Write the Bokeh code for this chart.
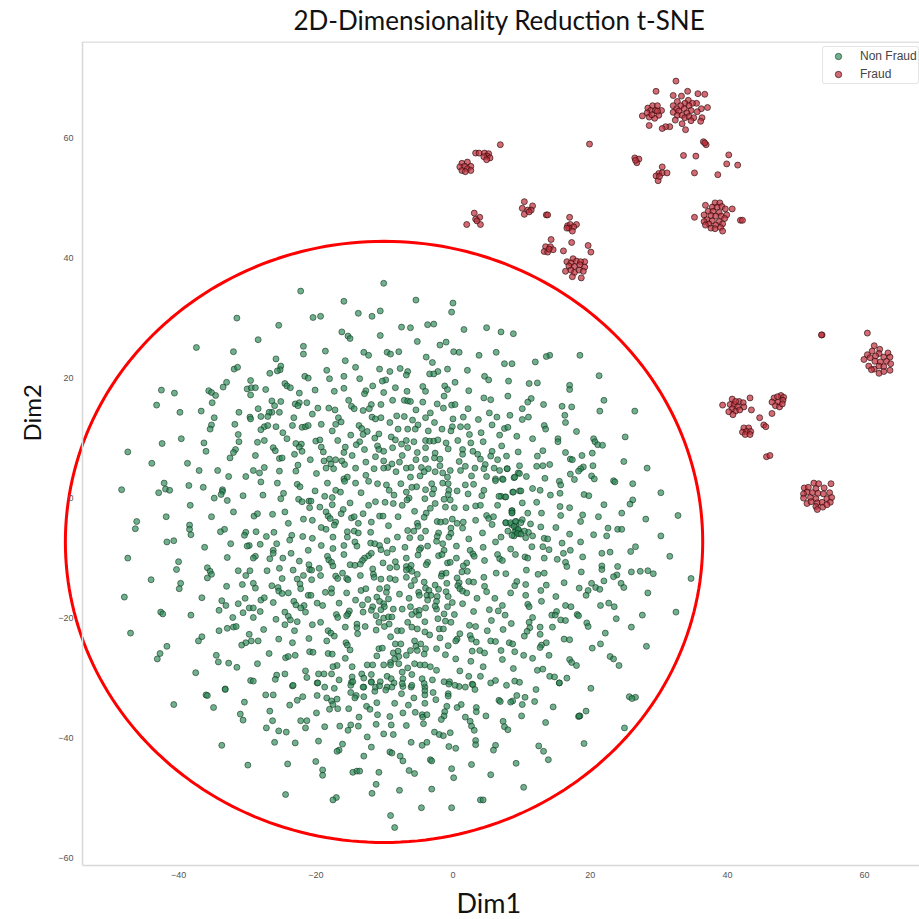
from bokeh.plotting import figure
from bokeh.models import FixedTicker, Range1d, Title
from bokeh.embed import file_html
from bokeh.resources import INLINE
import numpy as np

TITLE = "2D-Dimensionality Reduction t-SNE"
X_TICKS = [-40, -20, 0, 20, 40, 60]
Y_TICKS = [-60, -40, -20, 0, 20, 40, 60]
ELLIPSE_CENTER = (-10.05, -7.4)
ELLIPSE_SIZE = (92.9, 100.2)
X_AXIS_START = -54.0
X_END = 68.0
Y_START = -61.33
Y_END = 76.0

nonfraud_upper_left = [(-22.2,34.4),(-31.5,29.9),(-25.4,28.7),(-28.4,26.3),(-37.4,25.0),(-21.8,25.2),(-21.8,23.9),(-32.0,24.3),(-25.8,23.1),(-31.9,21.4),(-31.4,21.7),(-25.1,21.9),(-25.2,21.3),(-25.6,21.1),(-26.7,20.7),(-21.6,20.2),(-21.1,19.9),(-29.5,19.5),(-33.0,19.2),(-33.5,18.4),(-24.5,19.0),(-24.2,18.6),(-23.7,18.3),(-30.0,18.1),(-29.4,18.3),(-28.8,18.3),(-27.3,18.0),(-42.5,17.9),(-40.6,17.4),(-35.6,17.8),(-35.2,17.5),(-34.6,17.0),(-29.5,17.1),(-22.4,17.4),(-35.1,15.8),(-26.4,16.1),(-25.1,16.0),(-23.0,15.6),(-22.4,15.8),(-21.3,15.8),(-22.6,15.3),(-43.2,15.4),(-39.8,14.2),(-36.7,14.4),(-31.2,14.2),(-28.4,14.8),(-26.0,15.3),(-26.4,14.2),(-26.8,14.2),(-25.3,14.2),(-34.8,13.3),(-29.6,13.4),(-29.5,13.1),(-28.0,13.5),(-27.0,13.5),(-23.2,13.3),(-35.2,12.1),(-35.4,11.4),(-31.8,12.2),(-27.5,11.8),(-27.0,12.0),(-25.8,11.8),(-28.0,11.3),(-23.4,12.0),(-22.0,11.7),(-21.5,11.8),(-21.1,12.0),(-31.3,10.5),(-24.8,10.8),(-39.6,9.8),(-24.2,9.8),(-42.4,9.0),(-36.3,9.1),(-31.2,9.3),(-28.5,9.2),(-27.5,9.5),(-22.9,9.0),(-22.1,8.9),(-22.4,8.4),(-47.4,7.6),(-36.0,7.7),(-31.7,8.0),(-32.0,7.5),(-32.5,6.6),(-28.8,7.0),(-26.2,8.3),(-25.9,7.8),(-25.3,6.5),(-24.9,6.6),(-23.1,7.2),(-22.0,7.7),(-43.9,5.7),(-38.7,5.7),(-22.6,5.4),(-20.8,6.3),(-37.0,4.5),(-34.3,4.5),(-29.1,4.5),(-28.2,4.1),(-27.5,5.0),(-25.3,4.4),(-22.9,4.4),(-32.7,3.5),(-30.2,3.5)]

nonfraud_upper_middle = [(-10.1,35.7),(-15.9,32.7),(-5.4,32.9),(0.0,32.4),(-0.2,30.9),(-13.8,30.7),(-10.6,31.1),(-11.8,30.2),(-20.4,30.0),(-19.3,30.2),(-3.7,28.8),(-2.8,28.9),(-7.5,28.4),(-6.2,28.3),(1.6,28.0),(4.9,28.3),(7.0,27.6),(8.8,27.3),(-16.2,27.6),(-15.3,26.9),(-15.0,26.5),(-10.6,27.0),(-5.2,26.0),(-1.9,25.4),(-1.0,25.9),(-18.6,24.4),(-13.0,24.2),(-12.3,23.7),(-9.6,24.2),(-9.1,23.9),(-7.9,24.3),(0.1,24.3),(0.9,24.2),(3.8,23.7),(6.3,24.2),(-3.9,23.4),(-3.0,22.5),(-15.7,22.8),(7.5,22.3),(8.6,22.3),(-14.2,21.7),(-10.7,21.4),(-9.2,21.0),(-7.7,21.5),(-6.6,21.0),(-6.8,20.4),(-18.4,21.2),(-2.2,21.0),(-0.8,21.4),(-3.4,20.6),(-2.8,20.6),(2.1,21.2),(-18.0,19.8),(-15.9,20.2),(-13.6,19.8),(-9.8,19.6),(-10.3,19.4),(4.6,20.2),(5.2,19.6),(8.1,19.4),(0.3,19.2),(-11.7,18.6),(-8.4,18.3),(-4.4,18.5),(-1.2,18.6),(-0.8,18.0),(-20.1,17.9),(-15.9,18.2),(-17.3,17.7),(-12.7,17.8),(-12.9,17.3),(-10.1,17.5),(-6.7,17.7),(-4.0,17.7),(2.3,17.8),(-1.3,16.9),(4.5,16.6),(5.5,16.3),(8.0,16.9),(-15.2,16.2),(-8.8,16.2),(-7.1,16.2),(-6.6,16.1),(-6.2,16.0),(-4.4,15.9),(-2.3,15.6),(-11.9,15.5),(-10.5,15.5),(-0.2,15.4),(0.3,15.5),(-14.8,15.2),(-14.4,14.8),(-19.7,14.9),(-18.1,14.9),(-17.2,14.6),(-12.2,14.8),(-13.1,14.5),(-5.4,14.6),(-1.4,14.9),(2.2,14.8),(-20.5,13.9),(-3.3,14.1),(5.3,14.1),(8.3,13.7),(-16.7,13.3),(-11.8,13.4),(-11.3,13.1),(-10.5,13.3),(-8.2,13.6),(-7.1,13.5),(-4.0,13.3),(0.0,13.1),(1.5,13.4),(3.7,13.0),(6.4,13.4),(-16.3,12.6),(-9.2,12.5),(-5.9,12.9),(-2.7,12.5),(-17.1,12.2),(-19.2,12.2),(-13.7,12.0),(-13.3,11.5),(-5.1,12.1),(1.1,11.8),(2.1,11.8),(-0.1,11.8),(5.7,12.1),(7.5,11.5),(8.0,11.7),(-17.6,11.1),(-8.0,11.4),(-6.6,11.4),(-5.5,11.4),(-3.6,11.1),(-1.6,11.4),(-0.3,11.1),(4.1,10.8),(2.4,10.5),(6.8,10.4),(9.3,10.2),(-12.5,11.0),(-13.1,10.5),(-10.8,10.6),(-14.9,10.4),(-11.4,9.9),(-9.0,10.1),(-16.8,9.5),(-20.0,9.4),(-19.4,9.6),(-13.6,9.3),(-8.4,9.6),(-6.8,9.5),(-5.7,9.3),(-4.0,9.5),(-3.4,9.4),(-2.8,9.4),(-2.2,9.6),(0.7,9.5),(-1.0,9.1),(2.6,9.1),(4.4,9.3),(-14.1,8.8),(-7.5,8.9),(-19.2,8.4),(-15.7,8.4),(7.1,8.6),(-11.0,8.6),(-10.8,8.0),(-8.8,8.3),(-6.6,8.3),(-4.0,8.3),(-0.7,8.1),(1.4,8.0),(-10.1,7.7),(-12.9,8.0),(-18.9,7.6),(-15.9,7.5),(-5.2,7.5),(-2.6,7.4),(2.9,7.7),(5.7,7.7),(9.5,7.6),(-14.7,7.0),(-11.3,6.8),(-7.4,7.0),(-2.7,6.6),(1.4,7.2),(3.6,7.2),(5.5,6.9),(7.8,6.9),(-18.8,6.1),(-18.0,6.4),(-17.1,6.3),(-16.2,6.1),(-10.1,6.1),(-7.8,5.9),(-5.4,6.3),(-4.0,6.4),(-1.9,6.4),(0.9,6.0),(4.0,6.4),(6.5,6.3),(-12.7,5.9),(-17.8,5.6),(-15.8,5.5),(-8.9,5.6),(-9.5,5.0),(4.7,5.5),(1.8,5.2),(-18.5,4.9),(-17.4,4.8),(-14.2,4.9),(-11.5,4.8),(-10.1,4.9),(-6.8,4.9),(-6.1,5.0),(-4.6,5.0),(-3.6,4.8),(-1.9,5.3),(-0.4,4.5),(1.1,4.5),(3.2,4.9),(4.5,4.8),(6.0,4.9),(6.8,4.5),(7.9,4.8),(-19.9,4.0),(-8.3,4.3),(-4.2,4.3),(-2.6,4.3),(-1.5,4.1),(9.5,4.1),(-12.7,3.7),(-6.2,3.4),(-4.8,3.6),(-0.8,3.4),(2.7,3.6),(4.9,3.5),(6.2,3.1),(7.2,3.1),(8.9,3.3),(-15.9,3.1),(-15.4,3.4)]

nonfraud_upper_right = [(18.5,23.7),(14.1,23.7),(13.6,23.5),(12.0,22.6),(21.3,20.3),(11.1,19.0),(12.3,19.1),(17.0,18.7),(17.0,18.0),(11.4,16.5),(10.9,15.9),(13.2,15.5),(22.0,16.2),(10.1,14.8),(15.9,15.2),(17.3,15.1),(21.4,14.4),(26.5,14.4),(11.0,13.4),(10.1,13.0),(16.3,13.7),(16.4,12.5),(13.3,12.0),(13.5,11.4),(18.0,11.0),(11.6,9.8),(20.5,9.8),(15.3,9.8),(15.3,9.3),(25.1,10.1),(20.7,9.3),(21.1,8.8),(21.8,8.7),(13.1,7.8),(16.4,7.5),(20.3,7.4),(12.3,6.9),(18.8,7.0),(17.1,6.4),(17.4,6.3),(24.9,6.0),(12.2,5.2),(13.1,5.3),(14.1,5.5),(19.0,5.1),(20.4,5.3),(18.6,4.8),(18.3,4.4),(28.3,4.9),(10.7,3.5),(13.4,3.2),(17.1,3.9),(17.7,3.0),(20.2,3.6),(20.6,3.1),(23.4,2.8),(23.6,2.6),(15.5,2.7),(15.7,2.1),(26.2,2.3),(11.6,1.5),(12.7,1.2),(14.2,0.4),(15.6,0.7),(19.1,0.5),(19.8,0.3),(30.3,0.8),(26.2,-0.4),(25.8,-1.1),(22.0,-1.2),(10.1,-0.9),(12.2,-0.8),(15.6,-1.5),(17.0,-1.7),(12.9,-2.6),(10.9,-2.6),(24.6,-2.6),(15.7,-3.0),(18.9,-2.9),(21.2,-3.2),(32.8,-3.0),(28.1,-3.6),(18.6,-4.0),(10.1,-3.7),(11.3,-4.4),(12.8,-4.9),(15.0,-5.0),(22.6,-5.1),(24.0,-5.3),(24.6,-5.3),(17.0,-6.1),(20.5,-6.2),(22.4,-6.4),(30.3,-6.4),(11.0,-5.8),(10.4,-5.6),(11.6,-6.4),(13.3,-6.8),(13.8,-6.9),(10.6,-6.7),(7.3,3.0),(8.7,0.9),(9.7,1.1),(7.6,0.1),(7.0,0.2),(8.6,-2.2),(8.6,-2.5),(7.7,-4.2),(8.5,-4.5),(9.2,-4.0),(9.2,-5.0),(9.2,-5.4),(9.6,-5.5),(9.0,-5.7),(9.7,-6.0),(8.0,-5.6),(8.9,-6.4),(9.0,3.4),(9.7,4.0),(9.7,5.3),(7.9,4.8)]

nonfraud_lower_left = [(-48.3,1.3),(-42.1,2.4),(-41.9,1.4),(-41.3,1.2),(-42.9,0.8),(-38.5,2.0),(-36.4,1.7),(-33.6,1.3),(-33.6,1.0),(-33.8,0.5),(-34.8,-0.1),(-32.9,-0.5),(-30.6,0.3),(-27.7,0.4),(-24.7,0.7),(-25.1,-0.2),(-28.0,2.6),(-25.6,2.4),(-22.7,2.2),(-22.3,1.8),(-22.5,-0.3),(-22.0,-0.7),(-21.0,-0.6),(-38.3,-1.3),(-32.0,-2.4),(-35.2,-3.2),(-41.8,-3.2),(-29.0,-3.1),(-28.5,-2.7),(-26.3,-2.8),(-24.5,-2.4),(-20.9,-1.7),(-46.1,-4.0),(-46.3,-5.2),(-21.8,-3.6),(-24.0,-4.3),(-38.4,-4.6),(-38.4,-5.3),(-38.2,-6.2),(-33.3,-5.3),(-33.9,-5.7),(-30.2,-5.8),(-30.4,-6.3),(-28.7,-5.7),(-26.1,-5.8),(-27.2,-6.5),(-23.5,-6.3),(-23.8,-7.1),(-21.9,-6.5),(-41.7,-7.4),(-40.7,-7.2),(-32.4,-7.7),(-29.7,-8.0),(-30.0,-8.1),(-28.1,-7.8),(-25.7,-7.7),(-36.2,-8.3),(-26.2,-8.8),(-26.2,-9.3),(-21.1,-8.8),(-23.6,-9.3),(-47.4,-10.1),(-32.9,-10.0),(-28.8,-9.8),(-29.1,-10.1),(-26.7,-10.2),(-24.8,-10.1),(-22.4,-10.6),(-21.0,-11.2),(-40.0,-10.7),(-40.3,-12.0),(-35.8,-11.7),(-35.4,-12.3),(-35.2,-12.8),(-35.8,-13.4),(-31.3,-12.2),(-29.6,-12.2),(-27.1,-12.2),(-25.3,-11.8),(-23.3,-12.1),(-20.9,-12.0),(-30.2,-13.0),(-24.9,-13.5),(-22.7,-13.6),(-21.8,-13.0),(-44.0,-13.7),(-39.7,-14.3),(-39.9,-15.2),(-33.0,-14.8),(-30.7,-14.5),(-29.1,-14.3),(-28.8,-15.1),(-26.4,-14.7),(-25.5,-15.0),(-25.4,-15.6),(-24.9,-16.0),(-24.0,-15.9),(-22.3,-14.4),(-22.2,-15.2),(-21.1,-16.3),(-47.9,-16.6),(-36.6,-16.7),(-33.7,-17.2),(-30.3,-16.8),(-28.0,-17.1),(-27.5,-16.7),(-31.3,-17.7),(-33.1,-18.0),(-26.2,-17.5),(-23.2,-17.3),(-22.9,-17.9),(-21.7,-18.0),(-22.2,-18.4),(-29.7,-18.4),(-29.1,-18.4),(-34.1,-18.8),(-28.1,-19.0),(-30.6,-19.2),(-24.5,-19.1),(-21.5,-19.1),(-42.6,-19.1),(-42.3,-19.4),(-38.2,-19.6),(-32.1,-20.0),(-29.1,-20.0),(-24.0,-19.8),(-23.7,-20.4),(-25.8,-20.3),(-22.7,-20.7),(-24.5,-21.2),(-32.9,-21.8),(-32.0,-21.6),(-31.6,-21.5),(-34.1,-22.2),(-27.6,-22.0),(-23.1,-22.2),(-47.0,-22.6),(-29.7,-22.8),(-36.6,-23.2),(-37.1,-23.9),(-28.4,-23.9),(-29.4,-23.9),(-30.2,-24.2),(-30.8,-24.6),(-25.4,-23.6),(-23.4,-24.2),(-21.0,-23.5),(-41.7,-24.8),(-42.7,-26.0),(-43.1,-26.9),(-34.5,-26.3),(-34.2,-27.4),(-26.8,-26.0),(-32.7,-27.6),(-28.5,-27.7),(-24.4,-26.7),(-24.0,-26.5),(-23.0,-26.3),(-20.9,-25.7),(-31.5,-28.3),(-37.5,-29.2),(-25.7,-29.6),(-25.9,-30.3),(-24.5,-29.4),(-21.5,-28.9),(-21.3,-30.0),(-29.5,-30.5),(-29.1,-30.6),(-33.2,-31.9),(-23.4,-31.4),(-40.7,-34.5)]

nonfraud_lower_middle = [(-18.3,2.4),(-15.8,2.7),(-14.2,2.4),(-12.3,2.7),(-11.0,2.3),(-9.7,2.1),(-7.6,2.3),(-5.3,1.8),(-6.0,1.7),(-3.1,2.3),(-1.5,2.4),(-0.7,2.3),(1.8,2.1),(3.0,2.2),(6.2,2.8),(-20.1,1.1),(-17.1,1.2),(-16.4,0.9),(-13.4,0.8),(-9.3,1.2),(-6.8,0.9),(-4.0,1.3),(-2.8,1.4),(-0.6,1.2),(0.6,1.1),(4.5,1.2),(8.8,0.9),(9.9,1.1),(-18.7,0.2),(-17.6,0.0),(-8.6,0.4),(-6.4,-0.1),(-4.1,-0.2),(-3.0,0.6),(-0.7,0.5),(2.2,0.6),(4.2,0.3),(6.7,0.2),(7.7,0.1),(-20.7,-0.6),(-15.0,-0.9),(-11.3,-0.7),(-9.9,-0.8),(-8.7,-1.0),(-6.7,-0.4),(-1.3,-0.3),(-0.4,-0.4),(-17.6,-1.2),(-12.3,-1.3),(-7.4,-1.3),(-2.6,-1.0),(0.2,-1.7),(1.9,-1.7),(3.3,-1.4),(4.0,-1.3),(6.5,-1.3),(-19.4,-1.6),(-16.0,-2.0),(-5.6,-2.3),(-3.3,-1.8),(-1.1,-1.6),(8.6,-2.2),(-18.5,-2.4),(-16.3,-2.7),(-13.1,-2.7),(-10.7,-3.1),(-10.2,-3.1),(-8.0,-3.2),(-3.9,-2.6),(4.9,-3.0),(8.6,-2.6),(-18.2,-3.1),(-17.9,-3.5),(-14.8,-3.4),(-14.4,-3.2),(-4.2,-3.3),(-0.1,-3.6),(5.2,-3.5),(5.9,-3.2),(-20.5,-3.8),(-17.1,-4.1),(-11.9,-4.1),(-2.3,-4.0),(-1.8,-4.1),(-1.1,-4.0),(3.3,-3.8),(7.7,-4.2),(8.4,-4.2),(9.1,-4.0),(-17.3,-4.6),(-13.8,-4.3),(-9.4,-4.7),(-5.2,-4.3),(-5.1,-4.8),(0.6,-4.3),(1.5,-4.1),(5.7,-4.5),(8.9,-4.8),(9.9,-4.2),(-19.2,-5.0),(-18.5,-5.3),(-6.6,-5.5),(-5.7,-5.6),(-4.0,-5.6),(-0.3,-5.1),(1.4,-5.1),(9.5,-5.3),(-15.4,-5.7),(-14.4,-5.6),(-13.8,-5.9),(-12.0,-5.8),(-2.1,-5.9),(-0.3,-6.0),(4.3,-5.9),(9.4,-6.0),(9.9,-6.1),(-20.5,-6.8),(-17.5,-6.6),(-15.4,-6.6),(-8.1,-6.6),(-6.3,-6.7),(-4.7,-6.7),(-2.3,-6.5),(-0.6,-6.6),(2.3,-6.9),(7.0,-6.6),(8.6,-6.3),(-14.3,-7.4),(-12.0,-7.6),(-11.4,-7.7),(-9.6,-7.2),(-2.4,-7.3),(-1.5,-7.7),(6.2,-7.4),(-19.2,-8.0),(-15.9,-8.0),(-14.0,-8.1),(-10.7,-8.0),(-7.0,-8.3),(-4.7,-8.4),(-3.7,-8.1),(0.5,-8.1),(4.4,-8.3),(-17.5,-8.5),(-10.5,-8.7),(-8.8,-8.6),(-4.9,-8.7),(-1.3,-8.8),(2.5,-8.8),(8.4,-8.6),(-15.9,-9.5),(-9.6,-9.2),(-5.1,-9.6),(-12.3,-9.7),(-11.9,-9.3),(-2.1,-9.7),(-1.6,-9.5),(2.9,-9.4),(3.1,-9.8),(6.5,-9.5),(9.1,-9.5),(-18.3,-9.8),(-12.9,-10.1),(-6.8,-10.1),(0.5,-10.1),(6.8,-10.2),(7.2,-10.5),(-18.1,-10.4),(-13.2,-10.5),(4.6,-10.5),(-17.7,-10.8),(-10.2,-10.9),(-8.4,-10.7),(-3.7,-10.8),(-0.8,-10.9),(-0.4,-10.8),(2.0,-10.9),(-15.0,-11.2),(-14.3,-11.3),(-13.5,-11.1),(-3.9,-11.2),(1.5,-11.4),(-17.5,-11.4),(-9.2,-11.7),(-8.2,-11.6),(-6.1,-11.3),(-6.8,-11.5),(-19.5,-11.8),(-11.7,-11.9),(-6.4,-11.9),(-20.6,-12.1),(-16.1,-12.6),(-6.8,-12.1),(-6.0,-12.3),(-1.6,-12.7),(-1.0,-12.6),(1.3,-12.4),(6.3,-12.6),(7.7,-12.7),(-19.3,-13.0),(-17.1,-13.1),(-13.5,-13.0),(-11.6,-12.8),(-5.2,-12.8),(-1.7,-13.1),(2.1,-12.3),(-11.5,-13.3),(-16.8,-13.5),(-15.5,-13.5),(-15.3,-13.7),(-10.5,-13.6),(-9.2,-13.5),(-8.4,-13.7),(-6.8,-13.3),(0.6,-13.4),(4.5,-13.3),(-20.6,-13.7),(-5.6,-13.8),(2.3,-14.0),(3.0,-14.1),(-4.2,-14.1),(-0.9,-14.3),(0.9,-14.2),(9.3,-14.0),(-6.1,-14.7),(-2.6,-14.6),(0.7,-14.7),(4.6,-14.8),(9.0,-14.7),(-17.7,-15.2),(-13.4,-15.5),(-12.7,-15.2),(-10.7,-15.2),(-9.6,-15.0),(-4.0,-15.1),(-2.1,-15.3),(1.0,-15.2),(-18.6,-15.8),(-17.7,-15.9),(-15.5,-15.9),(-9.7,-15.8),(-5.0,-15.8),(-3.5,-15.5),(-1.0,-15.7),(1.4,-15.6),(2.0,-15.9),(4.9,-15.7),(8.4,-15.9),(-7.8,-16.1),(-4.9,-16.3),(-3.8,-16.3),(-3.2,-16.3),(-6.4,-16.8),(-2.3,-16.5),(-0.7,-16.5),(3.5,-16.8),(6.1,-16.8),(-11.1,-16.6),(-9.4,-16.9),(-3.7,-17.1),(-20.7,-16.3),(-14.2,-17.1),(-12.4,-17.0),(-10.7,-17.3),(-2.4,-17.3),(-0.1,-17.5),(1.4,-17.7),(-19.8,-17.6),(-19.0,-18.0),(-16.6,-17.6),(-13.2,-17.9),(-10.1,-17.7),(-10.0,-18.2),(-11.7,-18.2),(-6.2,-18.2),(-4.0,-18.4),(-2.4,-18.6),(-0.8,-18.2),(7.2,-18.0),(-15.1,-18.9),(-13.1,-19.1),(-11.9,-18.8),(-10.5,-18.7),(-8.7,-18.6),(-7.4,-18.6),(-5.4,-19.0),(-4.9,-18.8),(-2.6,-18.1),(3.0,-19.0),(5.3,-18.7),(6.6,-18.9),(-17.0,-19.5),(-15.3,-19.4),(-15.5,-19.7),(-6.0,-19.5),(-5.0,-19.6),(-1.3,-19.4),(0.2,-19.5),(7.6,-19.6),(-16.8,-20.0),(-11.2,-19.7),(-10.1,-20.1),(-9.4,-19.9),(-8.9,-19.9),(-2.2,-20.2),(-19.3,-20.8),(-12.8,-21.5),(-14.0,-21.1),(-10.8,-20.8),(-9.3,-21.1),(-6.6,-20.8),(-4.1,-20.7),(-1.1,-20.6),(-0.3,-20.8),(5.6,-20.5),(8.5,-21.0),(-20.5,-21.2),(-15.7,-21.6),(-14.0,-21.7),(-10.0,-21.5),(-6.0,-21.6),(-5.2,-21.9),(-2.0,-21.9),(-1.4,-21.9),(2.4,-21.3),(3.3,-21.5),(5.0,-22.2),(7.3,-22.0),(-18.2,-22.2),(-13.9,-22.7),(-11.2,-22.1),(-8.1,-22.2),(-7.5,-22.2),(-4.1,-22.4),(-3.4,-22.9),(1.0,-22.7),(-17.8,-22.6),(-17.3,-23.1),(2.5,-23.0),(-9.1,-23.2),(-5.6,-23.9),(-1.9,-23.4),(-18.4,-23.9),(0.6,-23.6),(0.4,-23.9),(2.7,-23.6),(3.4,-24.1),(5.5,-23.9),(6.2,-24.0),(8.2,-24.2),(8.7,-24.4),(-15.6,-24.2),(-8.4,-24.4),(-7.6,-24.4),(-4.7,-24.4),(-0.7,-24.7),(-5.4,-24.8),(-15.4,-24.6),(-10.8,-25.2),(-10.3,-25.1),(-15.0,-25.4),(-6.2,-25.5),(-5.2,-25.5),(-4.0,-25.2),(-2.4,-25.2),(-20.4,-25.8),(-18.2,-26.0),(-17.6,-26.1),(-8.7,-25.9),(-8.0,-25.6),(-1.1,-26.2),(2.8,-25.6),(3.9,-25.5),(4.6,-25.9),(7.0,-25.5),(9.0,-25.7),(-11.1,-26.4),(-7.9,-26.5),(-15.7,-26.8),(-8.5,-26.9),(-4.2,-26.1),(-6.8,-26.3),(0.4,-26.9),(7.2,-27.0),(2.6,-27.3),(-9.1,-27.5),(-12.5,-27.9),(-11.7,-27.9),(-10.1,-27.9),(-9.1,-27.9),(-7.9,-27.7),(-5.6,-27.7),(-4.8,-27.9),(-4.1,-27.9),(-16.9,-28.0),(-17.5,-28.2),(-14.7,-28.2),(-6.6,-28.4),(-3.3,-28.2),(4.4,-28.2),(8.8,-28.5),(-2.4,-28.8),(-7.4,-29.1),(1.0,-28.9),(-19.6,-29.4),(-18.8,-29.4),(-17.7,-29.4),(-13.3,-29.4),(-11.9,-29.5),(-14.7,-29.9),(-9.6,-29.8),(-6.0,-29.5),(2.3,-29.8),(4.0,-29.8),(-16.6,-30.4),(-13.0,-30.1),(-9.0,-30.2),(-7.3,-30.2),(-19.8,-30.9),(-14.8,-30.8),(-11.9,-30.7),(-10.6,-30.7),(-8.6,-30.9),(-4.5,-30.2),(-3.0,-30.4),(-1.3,-30.7),(-0.5,-30.7),(2.8,-31.1),(5.5,-30.9),(6.2,-30.5),(9.0,-30.6),(-18.7,-31.6),(-13.0,-31.6),(-9.6,-31.6),(-7.3,-31.5),(-6.1,-31.6),(-4.1,-31.6),(0.9,-31.5)]

nonfraud_lower_right = [(26.6,-8.2),(25.9,-9.0),(31.6,-9.8),(21.7,-9.3),(22.9,-9.1),(18.9,-9.9),(16.1,-9.3),(17.1,-8.8),(15.2,-10.3),(15.9,-7.6),(18.6,-7.4),(14.0,-8.7),(13.1,-8.2),(11.5,-8.2),(10.5,-9.9),(10.9,-10.1),(13.3,-10.1),(16.4,-10.8),(16.6,-11.5),(21.7,-11.4),(21.7,-12.0),(24.0,-11.5),(10.7,-12.1),(13.3,-12.6),(12.4,-12.8),(18.7,-12.4),(26.0,-12.4),(27.3,-12.3),(28.4,-12.2),(29.2,-12.7),(23.9,-12.9),(23.4,-13.2),(34.7,-13.5),(22.0,-13.9),(24.5,-14.3),(24.9,-15.0),(16.2,-14.2),(10.6,-14.5),(13.6,-14.6),(20.2,-14.3),(20.8,-15.0),(21.4,-15.3),(18.4,-15.1),(19.7,-15.5),(19.4,-16.3),(12.8,-15.5),(28.4,-15.9),(10.6,-16.3),(15.0,-16.5),(12.9,-17.3),(10.9,-17.8),(11.1,-18.2),(16.4,-18.0),(17.2,-18.2),(21.5,-18.0),(22.7,-17.6),(23.5,-18.2),(32.5,-19.1),(27.6,-19.6),(15.1,-19.0),(14.4,-19.6),(14.9,-19.6),(18.1,-19.5),(18.3,-19.7),(23.8,-20.2),(11.6,-20.0),(15.7,-20.4),(16.4,-20.5),(11.1,-20.8),(19.5,-20.9),(19.7,-21.5),(26.0,-21.6),(11.2,-21.7),(12.7,-21.6),(14.5,-21.6),(10.8,-22.3),(12.7,-22.8),(22.2,-22.6),(10.4,-23.1),(16.2,-23.6),(17.0,-23.7),(13.6,-24.2),(12.9,-24.6),(12.7,-25.0),(21.5,-24.4),(20.3,-25.1),(28.2,-24.8),(14.0,-26.3),(11.6,-26.8),(10.3,-26.3),(22.9,-26.5),(23.4,-26.9),(17.0,-27.0),(17.3,-27.5),(18.0,-28.0),(24.2,-28.0),(12.3,-28.8),(13.1,-28.6),(14.1,-29.8),(14.8,-29.9),(16.6,-30.1),(15.5,-30.9),(20.1,-31.8),(12.1,-32.0),(25.7,-33.2),(26.6,-33.3),(26.1,-33.5),(10.5,-33.3),(11.9,-34.0),(14.6,-34.9),(19.4,-35.6),(18.5,-36.4),(18.3,-36.5),(10.0,-36.4),(13.5,-37.5),(25.0,-38.4),(12.5,-41.4),(19.1,-41.0),(9.3,-33.0),(8.7,-33.9),(8.4,-34.1),(10.1,-34.5),(7.3,-37.3),(7.5,-38.2),(8.0,-38.7)]

nonfraud_bottom_left = [(-36.0,-32.9),(-35.8,-33.0),(-33.2,-32.0),(-34.9,-35.0),(-30.4,-34.1),(-31.0,-36.1),(-30.6,-37.1),(-26.7,-35.6),(-27.3,-32.9),(-26.2,-32.9),(-23.3,-31.3),(-19.7,-30.9),(-21.9,-33.2),(-22.7,-33.8),(-23.8,-34.6),(-19.8,-33.0),(-18.4,-33.4),(-17.3,-31.8),(-14.9,-31.3),(-14.6,-30.7),(-14.9,-32.5),(-14.1,-33.0),(-14.3,-33.4),(-13.0,-33.2),(-13.1,-31.6),(-11.9,-30.8),(-11.4,-32.3),(-11.3,-31.6),(-10.7,-31.4),(-17.7,-33.9),(-16.9,-33.6),(-17.5,-34.5),(-18.0,-35.3),(-16.8,-35.2),(-15.2,-35.2),(-12.6,-34.8),(-12.1,-35.3),(-11.1,-34.2),(-19.9,-35.9),(-13.7,-36.6),(-11.0,-36.2),(-26.3,-37.2),(-22.2,-37.2),(-21.3,-37.2),(-18.7,-38.2),(-16.5,-38.1),(-14.9,-37.9),(-15.3,-38.8),(-13.8,-38.1),(-11.2,-37.8),(-27.2,-38.4),(-25.4,-38.9),(-24.3,-39.1),(-21.5,-38.4),(-12.5,-39.9),(-33.7,-41.3),(-26.0,-40.8),(-23.0,-40.9),(-19.6,-40.6),(-16.1,-41.1),(-11.9,-41.6),(-16.6,-42.1),(-16.9,-42.3),(-13.0,-43.1),(-20.0,-44.0),(-29.9,-44.6),(-24.1,-44.4),(-19.0,-45.4),(-19.0,-46.3),(-14.6,-45.8),(-14.0,-45.6),(-13.6,-45.6),(-10.8,-45.8),(-11.2,-47.8),(-24.4,-49.5),(-11.8,-49.3),(-17.0,-50.0),(-17.5,-50.4)]

nonfraud_bottom_right = [(-9.8,-32.1),(-8.9,-31.6),(-7.4,-31.0),(-7.5,-32.7),(-6.0,-31.3),(-4.2,-31.0),(-4.1,-32.2),(-2.9,-32.5),(-4.1,-32.9),(-5.7,-33.4),(-2.5,-33.7),(-0.7,-32.7),(-0.7,-33.1),(0.3,-31.3),(-0.6,-31.1),(1.8,-31.6),(2.9,-31.2),(3.2,-32.0),(-8.5,-34.3),(-6.5,-34.6),(-4.1,-34.3),(-0.9,-34.8),(1.2,-34.5),(0.6,-35.0),(3.4,-35.0),(3.4,-35.7),(-7.3,-35.9),(-5.5,-35.8),(-4.5,-36.2),(-4.4,-36.6),(-3.8,-36.2),(-1.2,-35.7),(-1.3,-36.4),(-1.7,-37.0),(-9.2,-36.5),(1.8,-36.6),(4.8,-36.4),(2.5,-37.3),(-4.3,-37.7),(-9.0,-37.9),(-6.8,-38.0),(2.7,-38.1),(3.1,-38.8),(-2.7,-39.1),(-2.0,-39.5),(-1.4,-39.7),(-0.4,-39.2),(-10.1,-39.4),(-8.7,-39.5),(-6.1,-40.8),(-4.5,-41.3),(-3.8,-40.8),(3.3,-40.5),(3.3,-41.2),(-0.6,-41.5),(0.4,-41.8),(6.2,-41.3),(5.9,-42.1),(6.7,-33.8),(6.9,-34.0),(7.8,-31.3),(9.7,-30.8),(15.5,-30.9),(-9.2,-42.4),(-8.9,-42.6),(-7.7,-43.1),(-7.3,-43.9),(-3.3,-43.7),(-3.1,-43.9),(-6.4,-45.5),(-5.6,-46.0),(2.7,-44.5),(9.2,-44.3),(-0.2,-45.2),(0.1,-46.7),(5.5,-46.2),(-7.8,-48.8),(-3.1,-48.6),(10.3,-48.3),(4.0,-50.4),(4.4,-50.4),(-4.6,-51.7),(-0.2,-51.7),(-9.1,-53.0),(-8.5,-55.0),(13.2,-42.3),(13.9,-43.7),(18.4,-36.4)]

fraud_top_right = [(32.5,69.4),(29.6,67.7),(32.1,67.0),(33.3,66.9),(34.2,67.7),(35.7,67.3),(36.7,67.2),(37.1,65.0),(34.3,66.2),(35.5,65.7),(34.9,65.7),(32.7,66.0),(33.8,65.7),(32.1,65.3),(33.2,65.3),(34.4,65.3),(32.6,64.8),(33.7,64.8),(34.7,64.5),(36.2,64.8),(32.1,64.2),(32.9,64.4),(34.1,64.1),(35.6,64.3),(32.7,63.7),(33.4,63.7),(33.8,63.3),(34.4,63.5),(35.1,63.3),(36.3,63.3),(32.4,62.9),(34.7,62.8),(36.1,62.7),(33.4,62.3),(33.9,61.3),(31.6,61.8),(31.0,61.8),(30.5,61.5),(28.6,62.0),(28.4,64.9),(29.1,65.3),(29.8,65.3),(28.8,64.5),(29.5,64.5),(30.4,64.5),(28.3,64.1),(30.0,63.7),(27.6,63.6),(28.6,63.4),(29.4,63.2),(29.0,63.8),(29.8,64.4),(36.5,59.3),(36.9,58.8),(36.7,59.1),(26.5,56.6),(27.1,56.4),(26.8,55.8),(26.6,56.2),(33.6,57.0),(35.4,56.9),(40.2,57.1),(39.9,55.6),(41.5,55.4),(30.5,55.1),(30.0,54.0),(30.5,54.1),(29.6,53.6),(31.2,54.1),(29.9,52.8),(30.1,53.5),(35.2,54.1),(38.6,53.8),(36.8,48.7),(38.2,49.1),(38.9,49.1),(37.8,48.4),(38.5,48.4),(39.2,48.5),(39.7,48.1),(40.7,48.1),(37.2,47.7),(37.9,47.7),(38.8,47.5),(36.6,47.1),(37.6,47.0),(38.3,46.9),(39.1,46.9),(39.9,47.1),(35.2,46.7),(37.0,46.3),(37.8,46.1),(38.8,46.0),(39.6,46.5),(36.6,46.0),(37.3,45.6),(38.3,45.4),(39.3,45.6),(36.8,45.4),(37.6,44.9),(38.2,44.8),(39.0,45.0),(39.3,44.4),(41.9,46.2),(42.2,46.2)]

fraud_top_middle = [(6.9,58.8),(19.9,58.9),(3.3,57.4),(3.8,57.4),(4.6,57.4),(5.2,57.3),(5.0,56.9),(4.5,56.8),(5.4,56.6),(4.9,56.3),(1.3,55.7),(2.1,55.9),(1.0,55.1),(1.7,55.2),(2.6,55.2),(1.3,54.5),(2.1,54.8),(2.6,54.5),(1.8,54.3),(10.4,49.3),(11.6,48.6),(10.1,48.2),(10.9,47.9),(11.4,47.9),(10.4,47.2),(11.1,47.6),(13.6,47.1),(13.8,47.1),(17.0,46.7),(18.0,45.5),(16.7,45.3),(17.1,45.5),(17.6,45.1),(16.9,44.9),(17.4,44.4),(16.6,44.9),(3.1,47.4),(3.9,46.7),(3.3,46.4),(3.5,46.1),(4.0,45.5),(2.0,45.5),(14.3,43.0),(17.3,42.5),(19.7,42.0),(20.1,40.9),(16.1,41.1),(13.5,41.8),(14.2,41.8),(13.3,41.0),(13.8,40.9),(14.6,41.3),(14.0,41.4),(17.5,39.8),(16.6,39.3),(19.2,39.3),(17.2,39.1),(18.0,39.4),(18.6,39.3),(16.9,38.6),(17.7,38.5),(18.5,38.8),(19.2,38.4),(16.4,37.7),(17.2,37.9),(17.7,37.5),(18.4,37.9),(19.0,37.7),(17.4,36.8),(18.7,36.6)]

fraud_right = [(53.8,27.1),(53.7,27.1),(60.4,27.4),(61.4,25.3),(62.2,24.7),(61.1,24.4),(60.4,23.8),(62.1,24.0),(63.4,24.1),(60.8,23.3),(61.6,23.6),(62.8,23.4),(63.7,23.4),(59.9,23.0),(61.5,22.7),(62.3,22.6),(63.2,22.7),(63.8,22.3),(60.6,21.9),(61.4,21.4),(62.1,21.9),(62.8,21.8),(63.7,21.2),(62.1,20.7),(62.8,21.0),(61.0,21.3),(39.3,15.4),(40.7,16.4),(43.3,16.6),(43.5,14.6),(40.4,15.5),(41.0,15.5),(41.7,16.0),(42.3,15.8),(41.2,16.0),(42.4,15.1),(41.5,15.1),(40.7,14.8),(40.2,14.3),(41.2,14.4),(41.8,14.6),(40.8,13.8),(47.8,17.0),(46.8,16.6),(47.3,16.8),(48.2,16.7),(46.5,15.9),(47.4,15.9),(48.1,16.2),(47.0,15.3),(47.6,15.1),(48.0,15.6),(44.7,13.3),(46.5,14.0),(45.3,12.1),(45.6,11.8),(42.4,11.6),(43.1,11.6),(42.2,10.9),(42.8,11.0),(43.4,11.0),(42.6,10.5),(43.3,10.5),(45.7,6.8),(46.2,7.0),(52.6,2.4),(53.3,2.3),(55.1,2.3),(51.2,1.6),(51.8,1.7),(52.9,1.5),(54.1,1.6),(51.6,0.9),(52.4,0.8),(53.2,0.7),(54.9,0.8),(54.0,0.6),(51.1,0.6),(52.1,0.0),(52.9,-0.2),(54.5,-0.2),(55.2,0.0),(51.1,-0.1),(51.6,-1.0),(52.2,-0.7),(53.1,-0.9),(53.8,-0.8),(55.0,-0.8),(52.9,-1.5),(53.9,-1.6),(53.1,-2.0),(54.5,-1.2)]

nonfraud = (nonfraud_upper_left + nonfraud_upper_middle + nonfraud_upper_right + nonfraud_lower_left
            + nonfraud_lower_middle + nonfraud_lower_right + nonfraud_bottom_left + nonfraud_bottom_right)
fraud = fraud_top_right + fraud_top_middle + fraud_right

LEFT, TOP, FW, FH = 58, 42, 861, 824
p = figure(width=919, height=919, output_backend="svg", toolbar_location=None,
           x_range=Range1d(-57.5, X_END), y_range=Range1d(Y_START, Y_END),
           frame_width=FW, frame_height=FH, min_border_left=LEFT, min_border_right=0,
           min_border_top=0, min_border_bottom=53, background_fill_color="white",
           border_fill_color="white")
p.title.text = TITLE
p.title.text_font = "Lato"
p.title.text_font_size = "26px"
p.title.text_font_style = "normal"
p.title.text_color = "#111111"
p.title.vertical_align = "top"
p.title.align = "left"
p.title.offset = 235
p.title.standoff = 7
p.grid.visible = False
p.outline_line_color = None
for ax in (p.xaxis[0], p.yaxis[0]):
    ax.major_tick_line_color = None
    ax.minor_tick_line_color = None
    ax.axis_line_color = "#d8d8d8"
    ax.axis_line_width = 1.5
    ax.major_label_text_font = "Liberation Sans"
    ax.major_label_text_font_size = "9px"
    ax.major_label_text_color = "#555555"
p.xaxis[0].ticker = FixedTicker(ticks=X_TICKS)
p.yaxis[0].ticker = FixedTicker(ticks=Y_TICKS)
p.xaxis[0].bounds = (X_AXIS_START, X_END)
p.yaxis[0].fixed_location = X_AXIS_START
p.xaxis[0].major_label_standoff = 0
p.yaxis[0].major_label_standoff = 3
p.segment(x0=[X_AXIS_START], y0=[Y_END - 0.1], x1=[X_END], y1=[Y_END - 0.1], line_color="#d8d8d8", line_width=1.5)

p.scatter([a for a, _ in nonfraud], [b for _, b in nonfraud], size=6, fill_color="#2E8B57", fill_alpha=0.68,
          line_color="#0a2a18", line_alpha=0.55, line_width=1, legend_label="Non Fraud")
p.scatter([a for a, _ in fraud], [b for _, b in fraud], size=6, fill_color="#C0323F", fill_alpha=0.72,
          line_color="#2a0a0a", line_alpha=0.65, line_width=1, legend_label="Fraud")

t = np.linspace(0, 2 * np.pi, 241)
p.line(list(ELLIPSE_CENTER[0] + ELLIPSE_SIZE[0] / 2 * np.cos(t)),
       list(ELLIPSE_CENTER[1] + ELLIPSE_SIZE[1] / 2 * np.sin(t)), line_color="#ff0000", line_width=3)

leg = p.legend[0]
leg.location = (764, 781)
leg.label_text_font = "Liberation Sans"
leg.label_text_font_size = "12px"
leg.label_text_color = "#444444"
leg.border_line_color = "#cccccc"
leg.border_line_width = 1
leg.background_fill_alpha = 0.8
leg.spacing = 2
leg.padding = 1
leg.margin = 0
leg.glyph_width = 28
leg.glyph_height = 16
leg.label_standoff = 8
leg.border_radius = 3

p.add_layout(Title(text="Dim1", text_font="Lato", text_font_size="27px", text_font_style="normal",
                   text_color="#111111", align="left", offset=398, standoff=10, vertical_align="top"), "below")
p.add_layout(Title(text="Dim2", text_font="Lato", text_font_size="24px", text_font_style="normal",
                   text_color="#111111", align="left", offset=424, standoff=22, vertical_align="top"), "left")

open("out.html", "w").write(file_html(p, INLINE))
